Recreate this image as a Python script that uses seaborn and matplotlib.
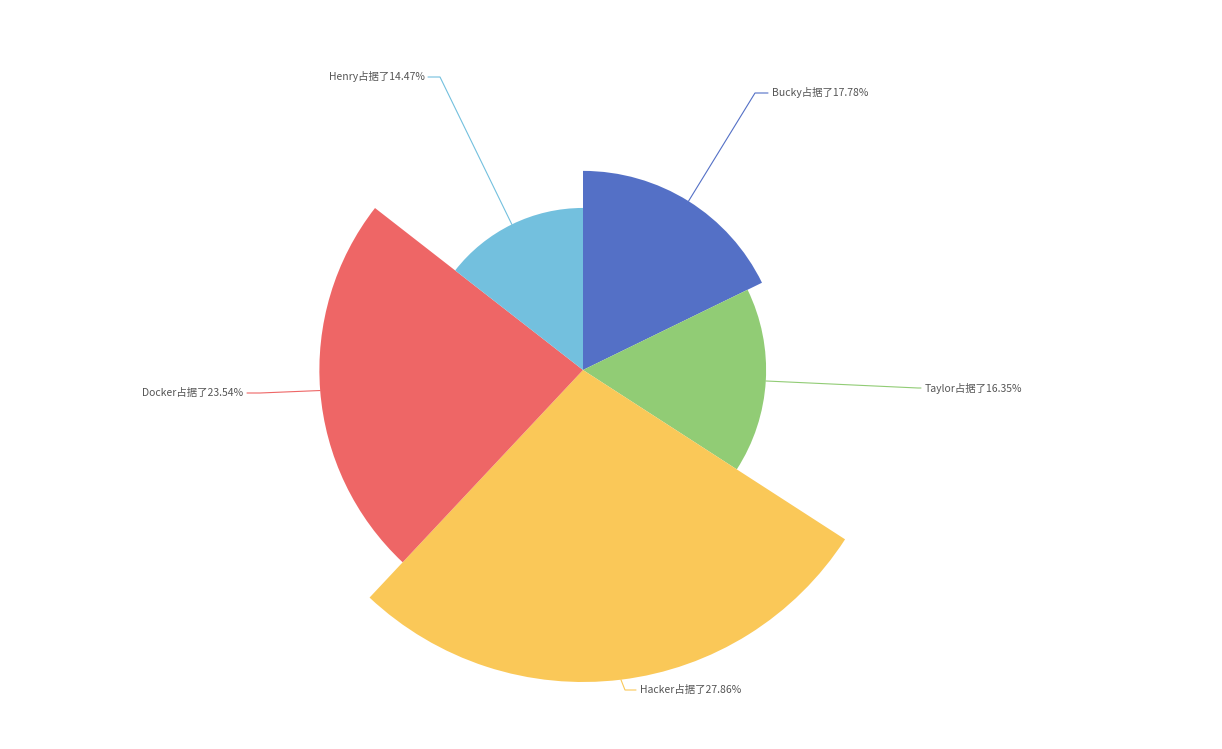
import numpy as np
import matplotlib
matplotlib.use('Agg')
import matplotlib.pyplot as plt
from matplotlib.lines import Line2D
from matplotlib.transforms import IdentityTransform
import seaborn as sns

names = ['Bucky', 'Taylor', 'Hacker', 'Docker', 'Henry']
shares = [17.78, 16.35, 27.86, 23.54, 14.47]
colors = ['#5470c6', '#91cc75', '#fac858', '#ee6666', '#73c0de']

# label layout in figure pixels (origin top-left): elbow point, end of short leg, text anchor
elbows = [(755, 93), (918, 388), (625, 690), (260, 393), (440, 77)]
leg_end = [768, 921, 636, 247, 428]
text_x = [772, 925, 640, 243, 425]

W, H = 1222, 749
sns.set_theme(style='white')
plt.rcParams['font.family'] = ['Noto Sans CJK SC', 'DejaVu Sans']

fig = plt.figure(figsize=(W / 100, H / 100), dpi=100)

# polar axes centred at (583, 370) px
cx, cy, R = 583, 370, 340
ax = fig.add_axes([(cx - R) / W, (H - cy - R) / H, 2 * R / W, 2 * R / H], projection='polar')
ax.set_theta_zero_location('N')
ax.set_theta_direction(-1)

total = sum(shares)
widths = np.array(shares) / total * 2 * np.pi
starts = np.concatenate([[0], np.cumsum(widths)[:-1]])
ax.bar(starts, shares, width=widths, align='edge', color=colors, linewidth=0)
ax.set_ylim(0, max(shares) * R / 312)
ax.axis('off')

for i, name in enumerate(names):
    mid = starts[i] + widths[i] / 2
    x0, y0 = ax.transData.transform((mid, shares[i]))
    ex, ey = elbows[i]
    line = Line2D([x0, ex, leg_end[i]], [y0, H - ey, H - ey],
                  transform=IdentityTransform(), color=colors[i], lw=0.8)
    fig.add_artist(line)
    ha = 'left' if text_x[i] > cx else 'right'
    fig.text(text_x[i] / W, 1 - ey / H, f'{name}占据了{shares[i]:.2f}%',
             ha=ha, va='center', fontsize=7.5, color='#555555')

fig.savefig('out.png', dpi=100, facecolor='white')
